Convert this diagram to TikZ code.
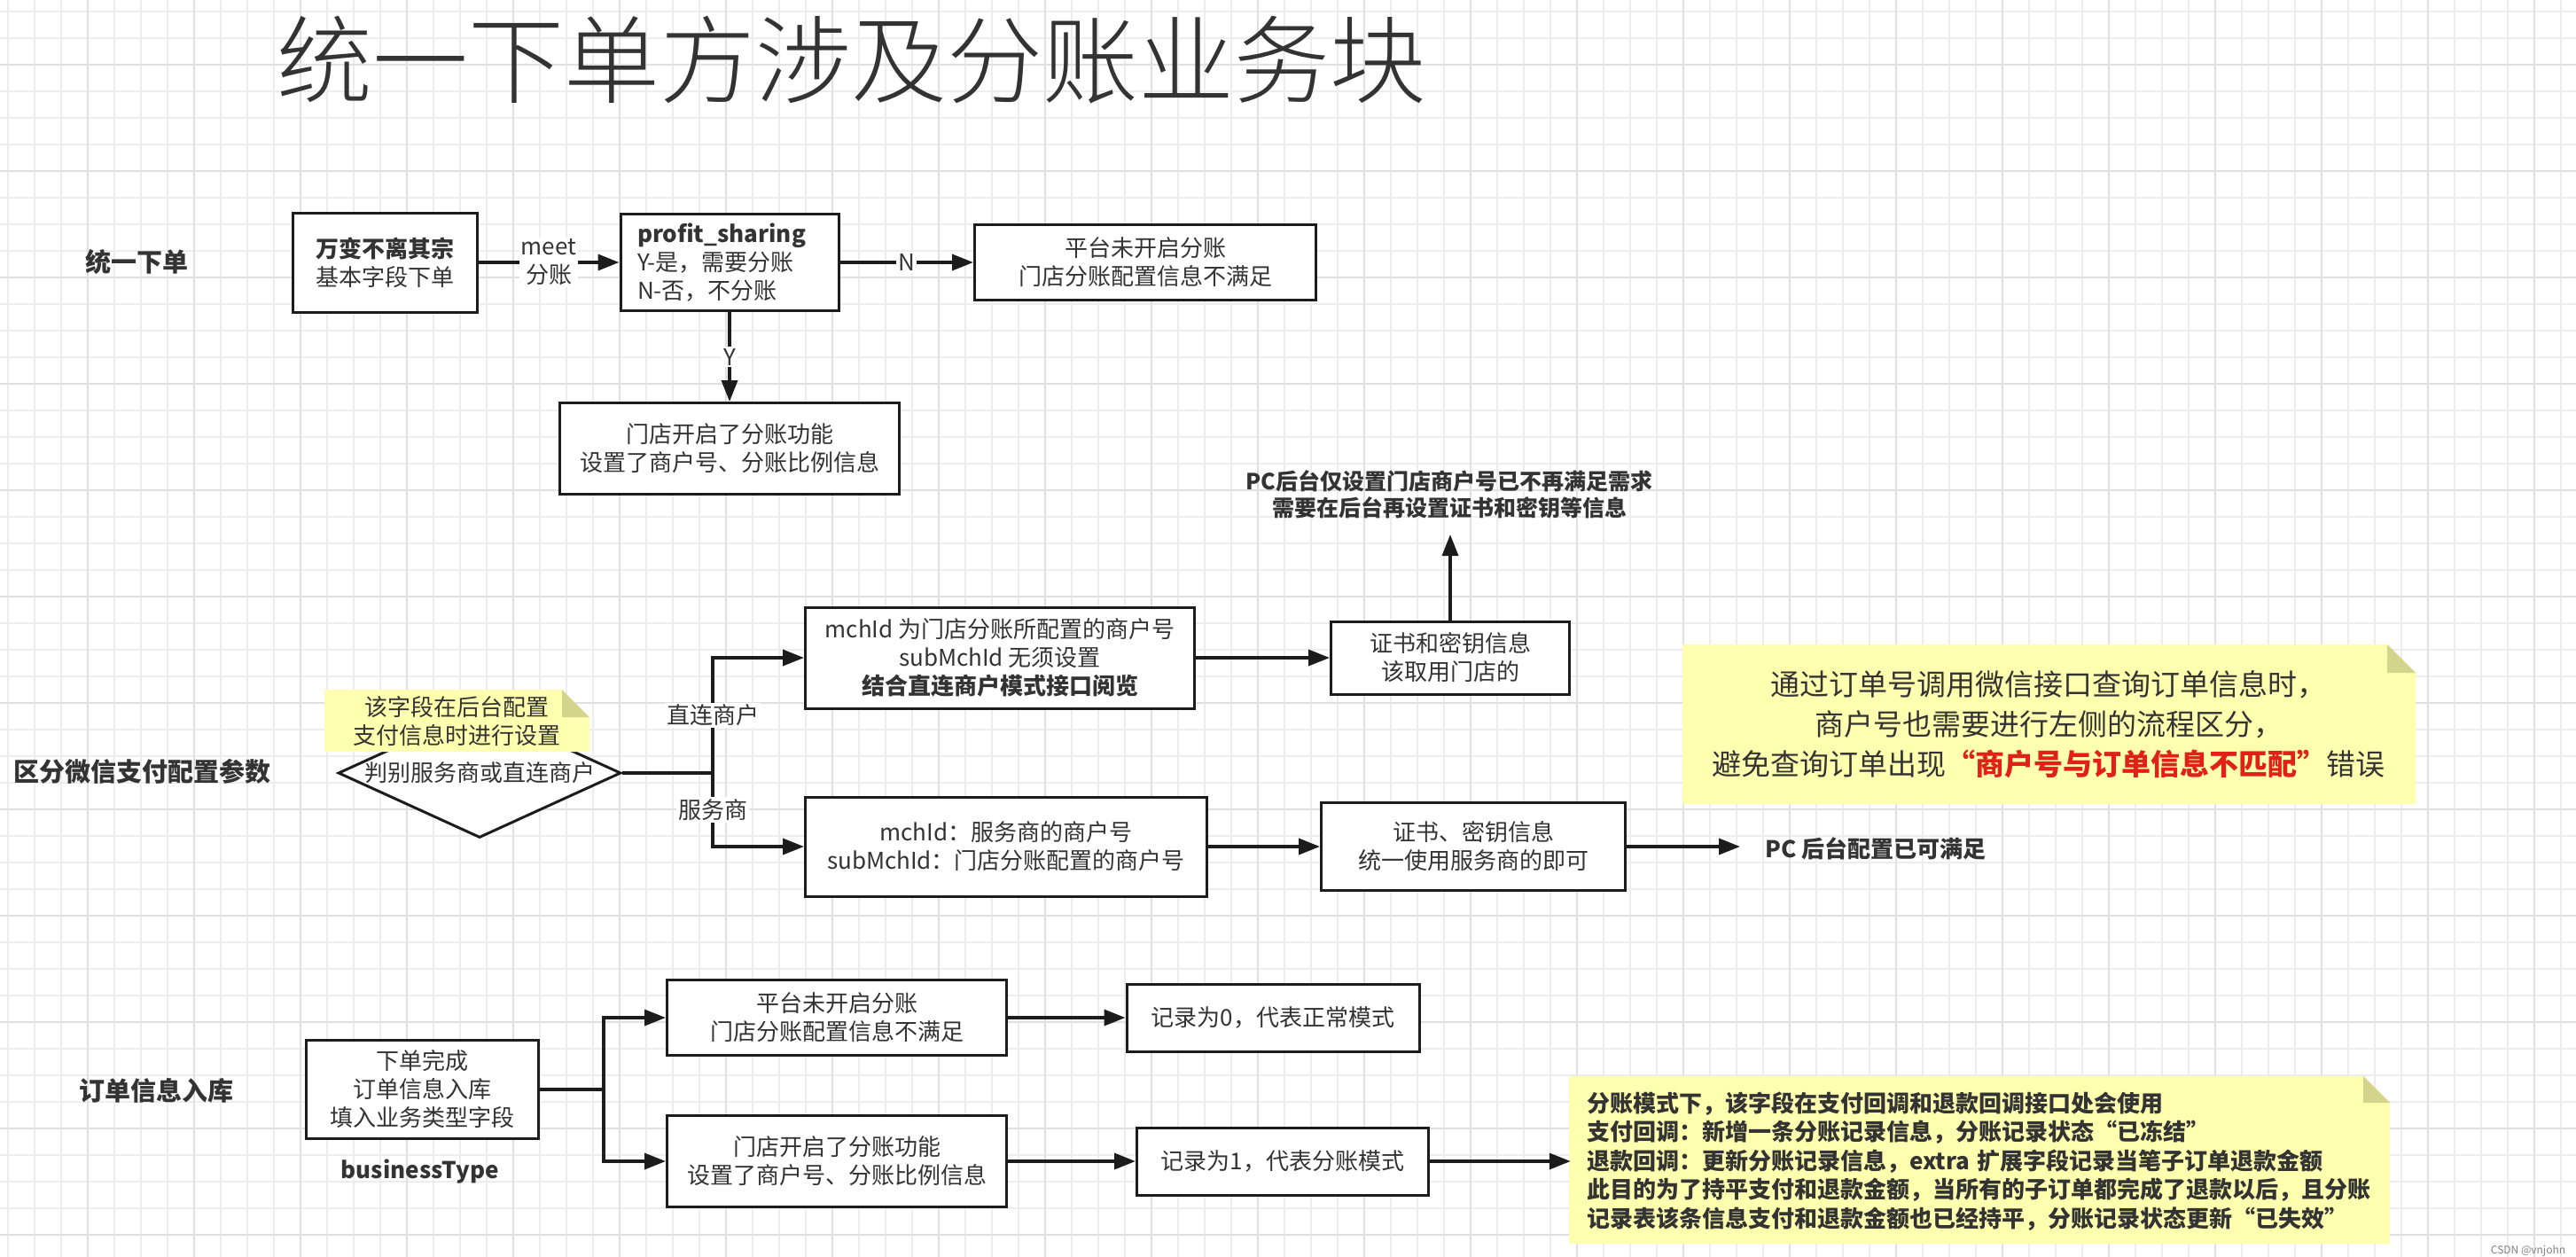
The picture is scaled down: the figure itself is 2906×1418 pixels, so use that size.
\documentclass[tikz,border=0pt]{standalone}
\usepackage{fontspec}
\setmainfont{Noto Sans CJK SC}
\newfontfamily\thinfont{Noto Sans CJK SC Light}
\usepackage{xcolor}
\usetikzlibrary{positioning}
\usetikzlibrary{arrows.meta,shapes.geometric}
\definecolor{ink}{rgb}{0.2,0.2,0.2}
\definecolor{edge}{rgb}{0.11,0.11,0.11}
\definecolor{gridminor}{rgb}{0.93,0.93,0.93}
\definecolor{gridmajor}{rgb}{0.88,0.88,0.88}
\definecolor{notefill}{rgb}{1,1,0.69}
\definecolor{notefold}{rgb}{0.83,0.83,0.55}
\definecolor{alert}{rgb}{0.88,0.13,0.1}

\begin{document}
\begin{tikzpicture}[
    x = 1pt, y = -1pt,
    box/.style = {draw = edge, line width = 3pt, fill = white, align = center, text = ink,
        inner sep = 0pt, font = \fontsize{26}{32}\selectfont},
    lane/.style = {text = ink, font = \bfseries\fontsize{29}{35}\selectfont},
    memo/.style = {text = ink, align = center, font = \fontsize{26}{32}\selectfont},
    tag/.style = {fill = white, text = ink, align = center, inner sep = 2pt,
        font = \fontsize{26}{32}\selectfont},
    link/.style = {draw = edge, line width = 3.5pt, -{Triangle[length = 24pt, width = 18pt]}}
    ]
    \useasboundingbox (0,0) rectangle (2906,1418);
    \foreach \gx in {9,39,...,2906} \draw[gridminor, line width = 1.2pt] (\gx,0) -- (\gx,1418);
    \foreach \gy in {13,43,...,1418} \draw[gridminor, line width = 1.2pt] (0,\gy) -- (2906,\gy);
    \foreach \gx in {99,219,...,2906} \draw[gridmajor, line width = 2pt] (\gx,0) -- (\gx,1418);
    \foreach \gy in {73,193,...,1418} \draw[gridmajor, line width = 2pt] (0,\gy) -- (2906,\gy);

    \node[text = ink, font = \thinfont\fontsize{108}{120}\selectfont] (title) at (960,68) {统一下单方涉及分账业务块};

    \node[lane] (lane1) at (154,295) {统一下单};
    \node[lane] (lane2) at (160,870) {区分微信支付配置参数};
    \node[lane] (lane3) at (176,1230) {订单信息入库};

    \node[box, minimum width = 208pt, minimum height = 112pt] (base) at (434,296)
        {\textbf{万变不离其宗}\\基本字段下单};
    \node[box, minimum width = 246pt, minimum height = 109pt, text width = 208pt, align = left] (flag) at (823,296)
        {\textbf{profit\_sharing}\\Y-是，需要分账\\N-否，不分账};
    \node[box, minimum width = 385pt, minimum height = 85pt] (off) at (1292,296)
        {平台未开启分账\\门店分账配置信息不满足};
    \node[box, minimum width = 383pt, minimum height = 103pt] (on) at (823,506)
        {门店开启了分账功能\\设置了商户号、分账比例信息};
    \draw[link] (base) -- node[tag] {meet\\分账} (flag);
    \draw[link] (flag) -- node[tag] {N} (off);
    \draw[link] (flag) -- node[tag] {Y} (on);

    \node[box, diamond, aspect = 2.2, minimum width = 319pt, minimum height = 146pt] (kind) at (541,872)
        {判别服务商或直连商户};
    \fill[notefill] (366,778) -- (634,778) -- (665,809) -- (665,848) -- (366,848) -- cycle;
    \fill[notefold] (634,778) -- (665,809) -- (634,809) -- cycle;
    \node[memo] (tip) at (515,814) {该字段在后台配置\\支付信息时进行设置};
    \node[box, minimum width = 439pt, minimum height = 114pt] (direct) at (1128,742)
        {mchId 为门店分账所配置的商户号\\subMchId 无须设置\\\textbf{结合直连商户模式接口阅览}};
    \node[box, minimum width = 453pt, minimum height = 112pt] (agent) at (1135,955)
        {mchId：服务商的商户号\\subMchId：门店分账配置的商户号};
    \coordinate (fork) at (804,872);
    \draw[link] (kind.east) -- (fork) |- node[tag, pos = 0.25] {直连商户} (direct.west);
    \draw[link] (kind.east) -- (fork) |- node[tag, pos = 0.25] {服务商} (agent.west);
    \node[box, minimum width = 269pt, minimum height = 82pt] (certshop) at (1636,742)
        {证书和密钥信息\\该取用门店的};
    \node[box, minimum width = 343pt, minimum height = 99pt] (certagent) at (1662,955)
        {证书、密钥信息\\统一使用服务商的即可};
    \node[text = ink, align = center, font = \bfseries\fontsize{25}{30}\selectfont] (pcneed) at (1635,558)
        {PC后台仅设置门店商户号已不再满足需求\\需要在后台再设置证书和密钥等信息};
    \coordinate (need) at (1636,603);
    \node[text = ink, anchor = west, font = \bfseries\fontsize{26}{32}\selectfont] (pcok) at (1988,957)
        {PC 后台配置已可满足};
    \coordinate (okend) at (1963,955);
    \draw[link] (direct) -- (certshop);
    \draw[link] (certshop) -- (need);
    \draw[link] (agent) -- (certagent);
    \draw[link] (certagent) -- (okend);

    \fill[notefill] (1898,727) -- (2693,727) -- (2725,759) -- (2725,907) -- (1898,907) -- cycle;
    \fill[notefold] (2693,727) -- (2725,759) -- (2693,759) -- cycle;
    \node[memo, font = \fontsize{33}{45}\selectfont] (hint) at (2311,817)
        {通过订单号调用微信接口查询订单信息时，\\商户号也需要进行左侧的流程区分，\\避免查询订单出现\textcolor{alert}{\textbf{“商户号与订单信息不匹配”}}错误};

    \node[box, minimum width = 262pt, minimum height = 111pt] (store) at (476,1229)
        {下单完成\\订单信息入库\\填入业务类型字段};
    \node[text = ink, font = \bfseries\fontsize{26}{32}\selectfont] (btype) at (474,1322) {businessType};
    \node[box, minimum width = 383pt, minimum height = 85pt] (off2) at (944,1148)
        {平台未开启分账\\门店分账配置信息不满足};
    \node[box, minimum width = 383pt, minimum height = 103pt] (on2) at (944,1310)
        {门店开启了分账功能\\设置了商户号、分账比例信息};
    \node[box, minimum width = 330pt, minimum height = 76pt] (rec0) at (1436,1148)
        {记录为0，代表正常模式};
    \node[box, minimum width = 329pt, minimum height = 76pt] (rec1) at (1447,1310)
        {记录为1，代表分账模式};
    \fill[notefill] (1770,1214) -- (2666,1214) -- (2696,1244) -- (2696,1403) -- (1770,1403) -- cycle;
    \fill[notefold] (2666,1214) -- (2696,1244) -- (2666,1244) -- cycle;
    \node[memo, align = left, text width = 890pt, minimum width = 926pt, minimum height = 189pt, inner sep = 0pt,
        font = \bfseries\fontsize{26}{32.5}\selectfont] (usage) at (2235,1310)
        {分账模式下，该字段在支付回调和退款回调接口处会使用\\
         支付回调：新增一条分账记录信息，分账记录状态“已冻结”\\
         退款回调：更新分账记录信息，extra 扩展字段记录当笔子订单退款金额\\
         此目的为了持平支付和退款金额，当所有的子订单都完成了退款以后，且分账\\
         记录表该条信息支付和退款金额也已经持平，分账记录状态更新“已失效”};
    \coordinate (fork3) at (681,1229);
    \draw[link] (store.east) -- (fork3) |- (off2.west);
    \draw[link] (store.east) -- (fork3) |- (on2.west);
    \draw[link] (off2) -- (rec0);
    \draw[link] (on2) -- (rec1);
    \draw[link] (rec1) -- (usage);

    \node[text = gray, font = \fontsize{12}{14}\selectfont] (mark) at (2852,1411) {CSDN @vnjohn};
\end{tikzpicture}
\end{document}
